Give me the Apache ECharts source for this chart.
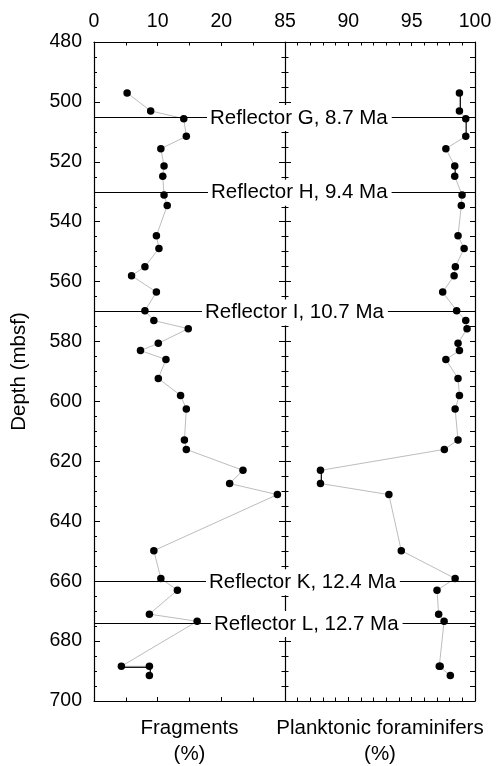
<!DOCTYPE html>
<html>
<head>
<meta charset="utf-8">
<script src="https://cdn.jsdelivr.net/npm/echarts@6/dist/echarts.min.js"></script>
<style>
  html, body { margin: 0; padding: 0; background: #fff; }
  #chart { width: 496px; height: 766px; }
</style>
</head>
<body>
<div id="chart"></div>
<script>
// Sample depths (mbsf), shared by both panels
const depths = [497, 503, 505.6, 511.5, 515.6, 521.4, 524.8, 531.1, 534.6, 544.7,
  548.9, 555, 558, 563.5, 569.7, 573, 575.7, 580.6, 583, 586,
  592.3, 598, 602.5, 612.9, 616, 623, 627.4, 631.1, 649.8, 659.1,
  663, 671, 673.4, 688.4, 688.4, 691.5];

// Fragments (%)
const fragments = [5.2, 8.9, 14.1, 14.5, 10.5, 11.0, 10.8, 11.0, 11.5, 9.8,
  10.2, 8.0, 5.9, 9.8, 8.0, 9.4, 14.8, 10.1, 7.3, 11.3,
  10.1, 13.6, 14.5, 14.2, 14.5, 23.4, 21.3, 28.8, 9.4, 10.5,
  13.1, 8.7, 16.2, 4.3, 8.7, 8.7];

// Planktonic foraminifers (%)
const planktonic = [98.77, 98.77, 99.27, 99.27, 97.7, 98.4, 98.4, 98.98, 98.92, 98.66,
  99.14, 98.45, 98.35, 97.45, 98.55, 99.27, 99.37, 98.66, 98.77, 97.7,
  98.66, 98.77, 98.43, 98.66, 97.58, 87.8, 87.8, 93.2, 94.18, 98.43,
  97.0, 97.13, 97.56, 97.18, 97.25, 98.05];

// Seismic reflectors
const reflectorNames = ['Reflector G, 8.7 Ma', 'Reflector H, 9.4 Ma', 'Reflector I, 10.7 Ma',
  'Reflector K, 12.4 Ma', 'Reflector L, 12.7 Ma'];
const reflectorDepths = [505, 530, 570, 660, 674];

// Axis ranges and tick labels
const depthTicks = [480, 500, 520, 540, 560, 580, 600, 620, 640, 660, 680, 700];
const fragmentTicks = [0, 10, 20];
const fragmentMax = 30;
const planktonicTicks = [85, 90, 95, 100];

// ---- layout / style ----
const FONT = '"Liberation Sans", Arial, Helvetica, sans-serif';
const TOP = 42, PLOT_H = 659;
const LEFT_X = 94, PANEL_W1 = 191, PANEL_W2 = 190;
const labelLeftPx = [207, 208, 202, 206, 211];

const chart = echarts.init(document.getElementById('chart'), null, { renderer: 'canvas' });

const axisLine = { show: true, onZero: false, lineStyle: { color: '#000', width: 1.2 } };
const noSplit = { show: false };

function xAxis(gridIndex, position, min, max, interval, minorSplit, labels, name) {
  return {
    type: 'value', gridIndex, position, min, max, interval,
    axisLine,
    axisTick: { show: true, inside: true, length: 4, lineStyle: { color: '#000', width: 1 } },
    minorTick: { show: true, splitNumber: minorSplit, length: 3.5, lineStyle: { color: '#000', width: 1 } },
    splitLine: noSplit, minorSplitLine: noSplit,
    axisLabel: labels ? {
      show: true, margin: 10, color: '#000', fontFamily: FONT, fontSize: 19.5,
      formatter: v => labels.includes(v) ? String(v) : ''
    } : { show: false },
    name: name || '', nameLocation: 'middle', nameGap: 14,
    nameTextStyle: { color: '#000', fontFamily: FONT, fontSize: 20.5, lineHeight: 26, verticalAlign: 'top' }
  };
}

function yAxis(gridIndex, position, opts) {
  return Object.assign({
    type: 'value', gridIndex, position, inverse: true,
    min: depthTicks[0], max: depthTicks[depthTicks.length - 1], interval: depthTicks[1] - depthTicks[0],
    axisLine,
    axisTick: { show: true, inside: true, length: 6, lineStyle: { color: '#000', width: 1 } },
    minorTick: { show: true, splitNumber: 4, length: 3.5, lineStyle: { color: '#000', width: 1 } },
    splitLine: noSplit, minorSplitLine: noSplit,
    axisLabel: { show: false }
  }, opts);
}

// Segments joining samples of equal value or equal depth are drawn as solid black links
function blackLinks(values) {
  const out = [];
  for (let i = 0; i + 1 < depths.length; i++) {
    if (values[i] === values[i + 1] || depths[i] === depths[i + 1]) {
      out.push({ coords: [[values[i], depths[i]], [values[i + 1], depths[i + 1]]] });
    }
  }
  return out;
}

function profileSeries(values, xIdx, yIdx) {
  return [{
    type: 'line', xAxisIndex: xIdx, yAxisIndex: yIdx,
    data: depths.map((d, i) => [values[i], d]),
    symbol: 'circle', symbolSize: 7.5, showAllSymbol: true,
    itemStyle: { color: '#000' },
    lineStyle: { color: '#bdbdbd', width: 1 },
    z: 3, silent: true,
    markLine: {
      silent: true, symbol: 'none', label: { show: false },
      lineStyle: { color: '#000', width: 1.2, type: 'solid' },
      data: reflectorDepths.map(d => ({ yAxis: d }))
    }
  }, {
    type: 'lines', coordinateSystem: 'cartesian2d', xAxisIndex: xIdx, yAxisIndex: yIdx,
    data: blackLinks(values),
    lineStyle: { color: '#000', width: 1.8, opacity: 1 },
    z: 2.5, silent: true
  }];
}

chart.setOption({
  animation: false,
  backgroundColor: '#fff',
  grid: [
    { left: LEFT_X, top: TOP, width: PANEL_W1, height: PLOT_H, containLabel: false, outerBoundsMode: 'none' },
    { left: LEFT_X + PANEL_W1, top: TOP, width: PANEL_W2, height: PLOT_H, containLabel: false, outerBoundsMode: 'none' }
  ],
  xAxis: [
    xAxis(0, 'top', 0, fragmentMax, 10, 2, fragmentTicks),
    xAxis(0, 'bottom', 0, fragmentMax, 10, 2, null, 'Fragments\n(%)'),
    xAxis(1, 'top', planktonicTicks[0], planktonicTicks[planktonicTicks.length - 1], 5, 5, planktonicTicks),
    xAxis(1, 'bottom', planktonicTicks[0], planktonicTicks[planktonicTicks.length - 1], 5, 5, null, 'Planktonic foraminifers\n(%)')
  ],
  yAxis: [
    yAxis(0, 'left', {
      axisLabel: { show: true, margin: 12, color: '#000', fontFamily: FONT, fontSize: 19.5 },
      minorTick: { show: true, splitNumber: 4, length: 3, lineStyle: { color: '#000', width: 1 } },
      name: 'Depth (mbsf)', nameLocation: 'middle', nameGap: 64, nameRotate: 90,
      nameTextStyle: { color: '#000', fontFamily: FONT, fontSize: 20.5 }
    }),
    yAxis(0, 'right', {}),
    yAxis(1, 'left', { axisLine: { show: false, onZero: false } }),
    yAxis(1, 'right', {
      axisTick: { show: true, inside: true, length: 5, lineStyle: { color: '#000', width: 1 } },
      minorTick: { show: true, splitNumber: 4, length: 5, lineStyle: { color: '#000', width: 1 } }
    })
  ],
  series: [
    ...profileSeries(fragments, 0, 0),
    ...profileSeries(planktonic, 2, 2)
  ]
});

// Reflector captions, placed on the reflector depth through the depth axis
chart.setOption({
  graphic: reflectorDepths.map((d, i) => ({
    type: 'text', z: 100, silent: true,
    x: labelLeftPx[i],
    y: chart.convertToPixel({ yAxisIndex: 0 }, d) + 1,
    style: {
      text: reflectorNames[i], fill: '#000',
      font: '20.5px ' + FONT,
      verticalAlign: 'middle', align: 'left',
      backgroundColor: '#fff', padding: [3, 4, 2, 3]
    }
  }))
});
</script>
</body>
</html>
